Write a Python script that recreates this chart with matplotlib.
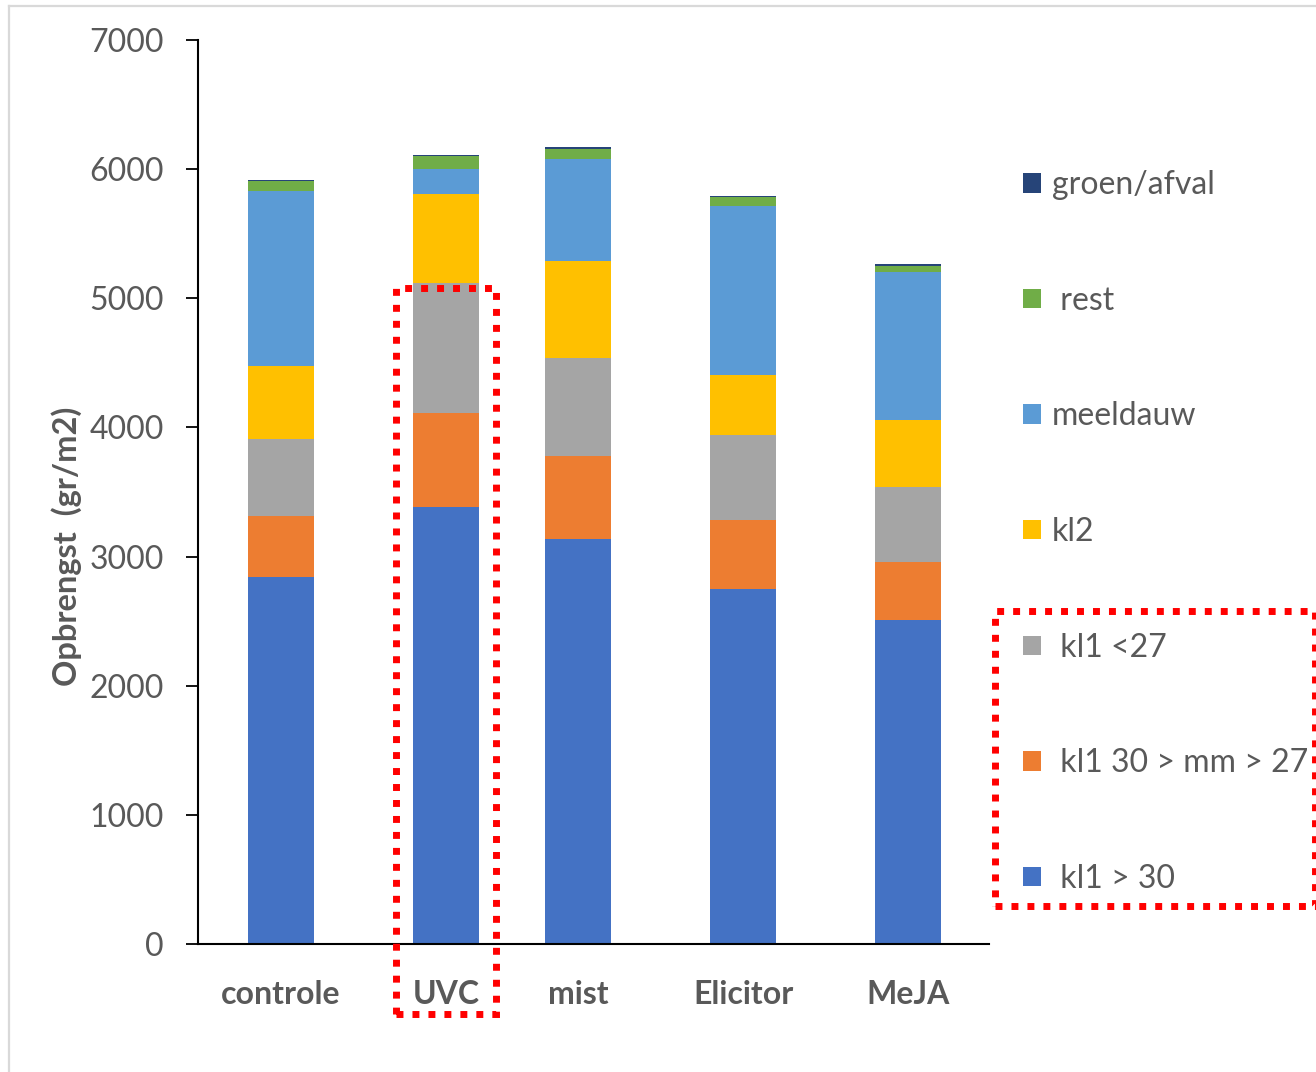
import matplotlib
matplotlib.use("Agg")
import matplotlib.pyplot as plt
from matplotlib.patches import Rectangle, Patch
from matplotlib.lines import Line2D

# Yield per treatment, split by grading class (gr/m2)
categories = ["controle", "UVC", "mist", "Elicitor", "MeJA"]
kl1_gt30 = [2842, 3384, 3138, 2746, 2511]
kl1_27_30 = [472, 725, 641, 535, 447]
kl1_lt27 = [594, 1012, 758, 663, 583]
kl2 = [567, 684, 751, 464, 516]
meeldauw = [1353, 198, 788, 1309, 1144]
rest = [80, 96, 82, 67, 51]
groen_afval = [10, 10, 16, 10, 11]

series_labels = ["kl1 > 30", "kl1 30 > mm > 27", "kl1 <27", "kl2",
                 "meeldauw", "rest", "groen/afval"]
legend_texts = [" kl1 > 30", " kl1 30 > mm > 27", " kl1 <27", "kl2",
                "meeldauw", " rest", "groen/afval"]
series = [kl1_gt30, kl1_27_30, kl1_lt27, kl2, meeldauw, rest, groen_afval]
colors = ["#4472C4", "#ED7D31", "#A5A5A5", "#FFC000",
          "#5B9BD5", "#70AD47", "#264478"]

# bar centres along the category axis
x_pos = [0.0, 1.0, 1.8, 2.8, 3.8]

TXT = "#595959"
plt.rcParams["font.family"] = ["Lato", "DejaVu Sans"]

W, H = 1316, 1072
fig = plt.figure(figsize=(W / 100, H / 100), dpi=100)
ax = fig.add_axes([198 / W, 1 - 944 / H, (989 - 198) / W, (944 - 40) / H])

bottom = [0] * len(categories)
for vals, col, lab in zip(series, colors, series_labels):
    ax.bar(x_pos, vals, width=0.4, bottom=bottom, color=col,
           edgecolor="none", label=lab, zorder=2)
    bottom = [b + v for b, v in zip(bottom, vals)]

ax.set_xlim(-0.503, 4.29)
ax.set_ylim(0, 7000)
ax.set_yticks(range(0, 7001, 1000))
ax.set_xticks(x_pos)
ax.set_xticklabels(categories, fontsize=23, fontweight="bold", color=TXT)
ax.tick_params(axis="x", length=0, pad=26)
ax.tick_params(axis="y", direction="out", length=8.6, width=1.3,
               pad=16, labelsize=23, labelcolor=TXT, color="black")

for side in ("top", "right"):
    ax.spines[side].set_visible(False)
for side in ("left", "bottom"):
    ax.spines[side].set_linewidth(1.5)
    ax.spines[side].set_color("black")

ax.set_ylabel("Opbrengst  (gr/m2)", fontsize=23.5, fontweight="bold",
              color=TXT, va="center")
ax.yaxis.set_label_coords(-0.166, 0.44)

# legend, top entry first
handles = [Patch(facecolor=c, edgecolor="none") for c in colors][::-1]
leg = fig.legend(handles, legend_texts[::-1], loc="center left",
                 bbox_to_anchor=(1023 / W, 1 - 532 / H),
                 frameon=False, fontsize=23, labelcolor=TXT,
                 handlelength=0.56, handleheight=0.56, handletextpad=0.35,
                 labelspacing=2.68, borderpad=0, borderaxespad=0)

# red dotted highlight frames
dot = dict(fill=False, edgecolor="#FF0000", linewidth=5,
           linestyle=(0, (1, 1.3)), capstyle="butt",
           transform=fig.transFigure, clip_on=False, zorder=10)
fig.add_artist(Rectangle((396 / W, 1 - 1014 / H), 100 / W, 726 / H, **dot))
fig.add_artist(Rectangle((995 / W, 1 - 906 / H), 320 / W, 295 / H, **dot))

# light grey outer frame
frame = dict(color="#D9D9D9", linewidth=1.6, transform=fig.transFigure)
fig.add_artist(Line2D([9 / W, 9 / W], [0, 1 - 6 / H], **frame))
fig.add_artist(Line2D([9 / W, 1], [1 - 6 / H, 1 - 6 / H], **frame))

fig.savefig("out.png", dpi=100)
